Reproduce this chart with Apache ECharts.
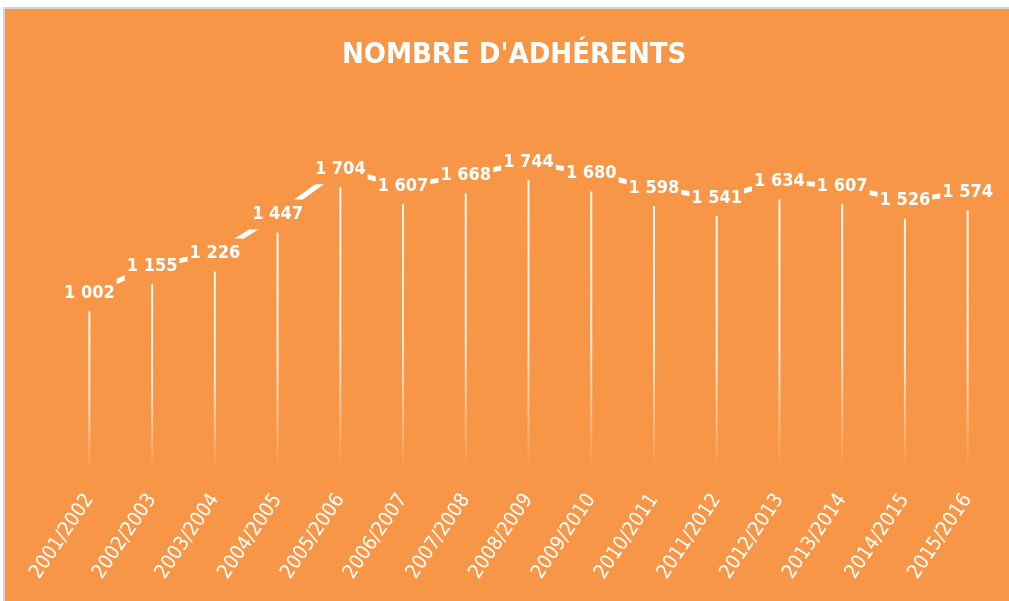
<!DOCTYPE html>
<html>
<head>
<meta charset="utf-8">
<script src="https://cdn.jsdelivr.net/npm/echarts@6/dist/echarts.min.js"></script>
<style>
  body { margin: 0; background: #fff; }
  #frame {
    position: absolute; left: 3px; top: 7px; width: 1004px; height: 592px;
    border-top: 2px solid #d4d4d4; border-left: 2px solid #d4d4d4;
    background: #f79646;
  }
  #chart { width: 1004px; height: 592px; }
</style>
</head>
<body>
<div id="frame"><div id="chart"></div></div>
<script>
var saisons = ['2001/2002', '2002/2003', '2003/2004', '2004/2005', '2005/2006',
  '2006/2007', '2007/2008', '2008/2009', '2009/2010', '2010/2011', '2011/2012',
  '2012/2013', '2013/2014', '2014/2015', '2015/2016']
var adherents = [1002, 1155, 1226, 1447, 1704, 1607, 1668, 1744, 1680, 1598, 1541, 1634, 1607, 1526, 1574]

var orange = '#f79646'
var police = '"DejaVu Sans Condensed", "Liberation Sans", sans-serif'

function milliers (v) {
  return String(v).replace(/\B(?=(\d{3})+(?!\d))/g, ' ')
}

var chart = echarts.init(document.getElementById('chart'))
chart.setOption({
  backgroundColor: orange,
  animation: false,
  title: {
    text: "NOMBRE D'ADHÉRENTS",
    left: 332,
    top: 27,
    textStyle: {
      color: '#fff',
      fontFamily: police,
      fontWeight: 'bold',
      fontSize: 29
    }
  },
  grid: { left: 53, right: 10, top: 108, bottom: 131 },
  xAxis: {
    type: 'category',
    data: saisons,
    axisLine: { show: false },
    axisTick: { show: false },
    axisLabel: {
      rotate: 56,
      margin: 26,
      color: '#fff',
      fontFamily: police,
      fontSize: 20
    }
  },
  yAxis: {
    type: 'value',
    min: 0,
    max: 2000,
    show: false,
    splitLine: { show: false }
  },
  series: [
    {
      // lignes de rappel qui s'estompent vers le bas
      type: 'custom',
      z: 1,
      data: adherents,
      renderItem: function (params, api) {
        var top = api.coord([api.value(0), api.value(1)])
        var base = api.coord([api.value(0), 0])
        return {
          type: 'rect',
          shape: { x: top[0] - 1, y: top[1] + 18, width: 2, height: base[1] - top[1] - 18 },
          style: {
            fill: new echarts.graphic.LinearGradient(0, 0, 0, 1, [
              { offset: 0, color: 'rgba(255,255,255,0.95)' },
              { offset: 0.55, color: 'rgba(255,255,255,0.8)' },
              { offset: 1, color: 'rgba(255,255,255,0)' }
            ])
          }
        }
      }
    },
    {
      type: 'line',
      z: 3,
      data: adherents,
      symbol: 'circle',
      symbolSize: 2,
      showSymbol: true,
      itemStyle: { color: '#ffffff' },
      lineStyle: { color: '#fff', width: 5 },
      label: {
        show: true,
        position: 'inside',
        formatter: function (p) { return milliers(p.value) },
        color: '#fff',
        fontFamily: police,
        fontWeight: 'bold',
        fontSize: 18,
        backgroundColor: orange,
        padding: [6, 2]
      }
    }
  ]
})
</script>
</body>
</html>
